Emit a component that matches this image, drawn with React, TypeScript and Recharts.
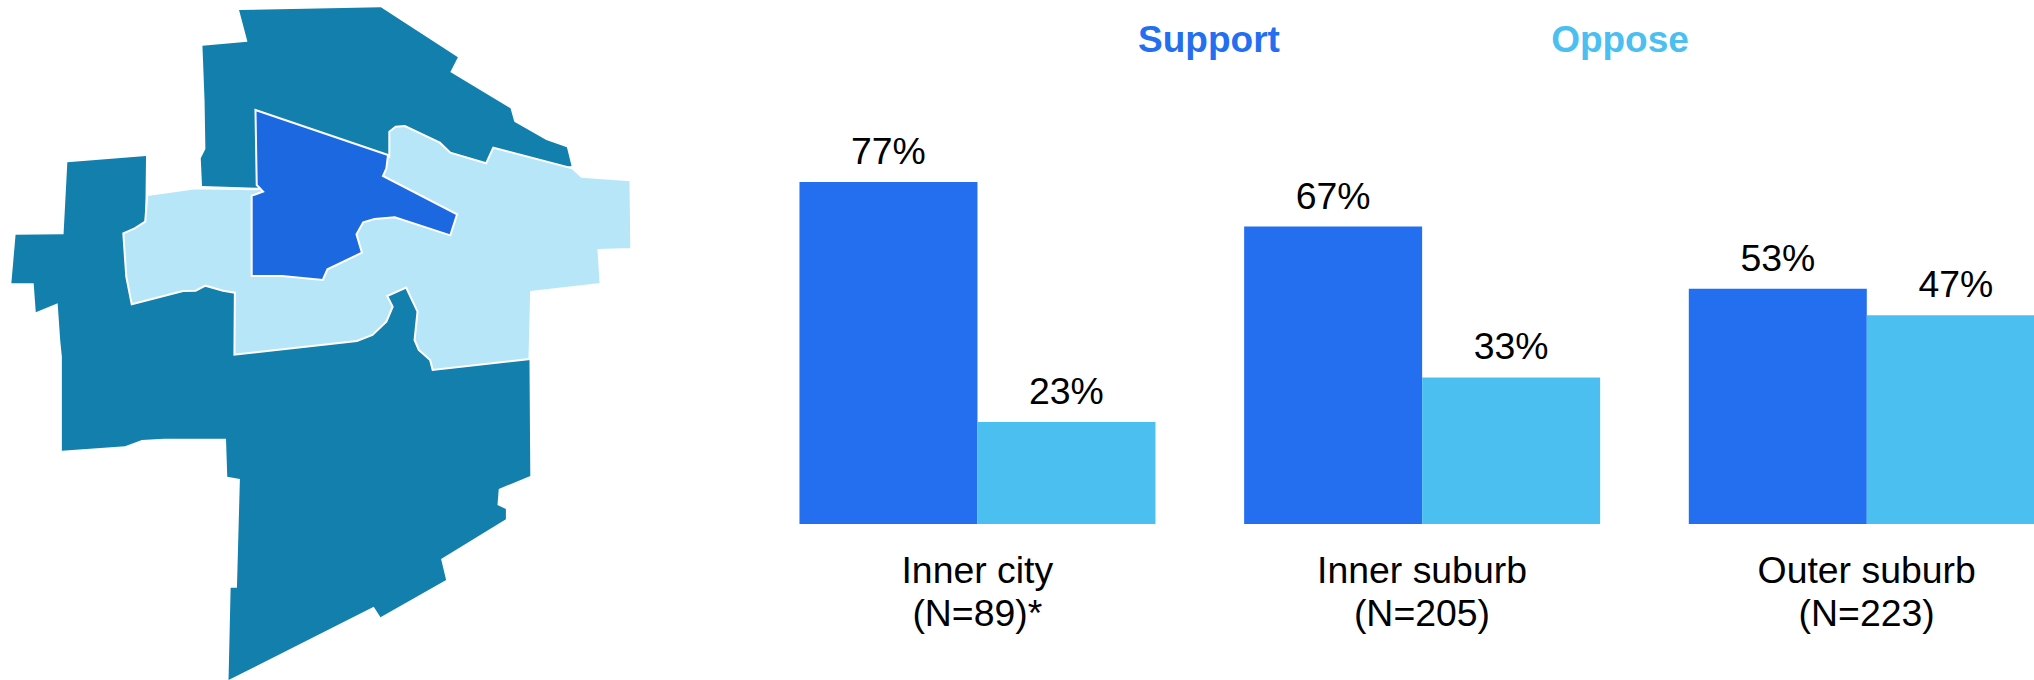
import { Bar, BarChart, LabelList, Legend, Polygon, Surface, XAxis, YAxis } from "recharts";

const categories = ["Inner city", "Inner suburb", "Outer suburb"];
const sampleSizes = ["(N=89)*", "(N=205)", "(N=223)"];
const support = [77, 67, 53];
const oppose = [23, 33, 47];

const BLUE = "#236fef";
const SKY = "#4bc0f0";
const FONT = '"Liberation Sans", Arial, sans-serif';

const northDistrict = [
  [568, 30], [905, 22], [1088, 172], [1070, 216], [1213, 325], [1222, 365], [1298, 420], [1347, 442],
  [1358, 498], [1100, 560], [610, 563], [480, 558], [477, 475], [488, 447], [486, 300], [481, 137], [588, 125],
];
const southDistrict = [
  [160, 487], [347, 468], [345, 670], [700, 860], [980, 850], [1200, 1000], [1258, 1078], [1260, 1428],
  [1185, 1467], [1182, 1515], [1202, 1527], [1202, 1558], [1048, 1677], [1060, 1740], [904, 1852], [888, 1820],
  [543, 2040], [548, 1763], [563, 1763], [570, 1437], [540, 1430], [537, 1316], [390, 1316], [337, 1320],
  [297, 1339], [147, 1352], [147, 1070], [143, 1020], [137, 910], [85, 937], [80, 850], [27, 850], [37, 704], [151, 703],
];
const innerSuburb = [
  [925, 395], [940, 380], [962, 378], [1045, 428], [1070, 458], [1155, 490], [1172, 443], [1360, 505],
  [1382, 530], [1498, 541], [1500, 747], [1422, 750], [1427, 852], [1262, 876], [1258, 1077], [1028, 1110],
  [1022, 1080], [995, 1050], [985, 1020], [992, 935], [965, 863], [920, 888], [933, 920], [918, 965],
  [885, 1005], [848, 1023], [557, 1064], [558, 878], [530, 872], [488, 857], [465, 872], [435, 873],
  [313, 913], [300, 830], [293, 700], [320, 685], [345, 665], [350, 585], [465, 565], [610, 568],
  [900, 480], [925, 470],
];
const innerCity = [
  [607, 330], [922, 465], [918, 505], [910, 528], [1086, 643], [1070, 706], [938, 652], [890, 657],
  [863, 667], [847, 703], [860, 758], [778, 808], [767, 840], [670, 828], [598, 828], [598, 587],
  [625, 575], [610, 555],
];

const toPoints = (outline: number[][]) => outline.map(([x, y]) => ({ x: x / 2.376, y: y / 3 }));

const tableData = categories.map((name, i) => ({
  name,
  n: sampleSizes[i],
  Support: support[i],
  Oppose: oppose[i],
}));

function CategoryTick({ x, y, payload, index }: any) {
  return (
    <text x={x} y={y} textAnchor="middle" fontFamily={FONT} fontSize={37.4} fill="#000">
      <tspan x={x} dy={51}>{payload.value}</tspan>
      <tspan x={x} dy={43}>{sampleSizes[index]}</tspan>
    </text>
  );
}

function SeriesLegend({ payload }: any) {
  const centers = [454, 865];
  return (
    <div>
      {(payload ?? []).map((item: any, i: number) => (
        <span
          key={item.value}
          style={{
            position: "absolute",
            left: centers[i],
            top: 19,
            transform: "translateX(-50%)",
            color: item.color,
            fontFamily: FONT,
            fontSize: 37,
            fontWeight: 700,
            lineHeight: "42px",
          }}
        >
          {item.value}
        </span>
      ))}
    </div>
  );
}

function DistrictMap() {
  return (
    <Surface width={660} height={680} viewBox={{ x: 0, y: 0, width: 660, height: 680 }}>
      <Polygon points={toPoints(northDistrict)} fill="#127fad" />
      <Polygon points={toPoints(southDistrict)} fill="#127fad" />
      <Polygon points={toPoints(innerSuburb)} fill="#b8e6f9" stroke="#fff" strokeWidth={2} />
      <Polygon points={toPoints(innerCity)} fill="#1c68e0" stroke="#fff" strokeWidth={2} />
    </Surface>
  );
}

const labelStyle = { fontFamily: FONT, fontSize: 37.4, fill: "#000" };
const pct = (v: number) => `${v}%`;

export default function App() {
  return (
    <div style={{ position: "absolute", left: 0, top: 0, width: 2034, height: 680, overflow: "hidden", background: "#fff" }}>
      <div style={{ position: "absolute", left: 0, top: 0 }}>
        <DistrictMap />
      </div>
      <div style={{ position: "absolute", left: 755, top: 0 }}>
        <BarChart
          width={1334}
          height={680}
          data={tableData}
          margin={{ top: 80, right: 0, bottom: 0, left: 0 }}
          barCategoryGap="10%"
          barGap={0}
        >
          <XAxis dataKey="name" height={156} axisLine={false} tickLine={false} tick={<CategoryTick />} interval={0} />
          <YAxis hide domain={[0, 100]} />
          <Legend itemSorter={null} content={<SeriesLegend />} wrapperStyle={{ position: "absolute", left: 0, top: 0 }} />
          <Bar dataKey="Support" fill={BLUE} isAnimationActive={false}>
            <LabelList dataKey="Support" position="top" offset={18} formatter={pct} style={labelStyle} />
          </Bar>
          <Bar dataKey="Oppose" fill={SKY} isAnimationActive={false}>
            <LabelList dataKey="Oppose" position="top" offset={18} formatter={pct} style={labelStyle} />
          </Bar>
        </BarChart>
      </div>
    </div>
  );
}
